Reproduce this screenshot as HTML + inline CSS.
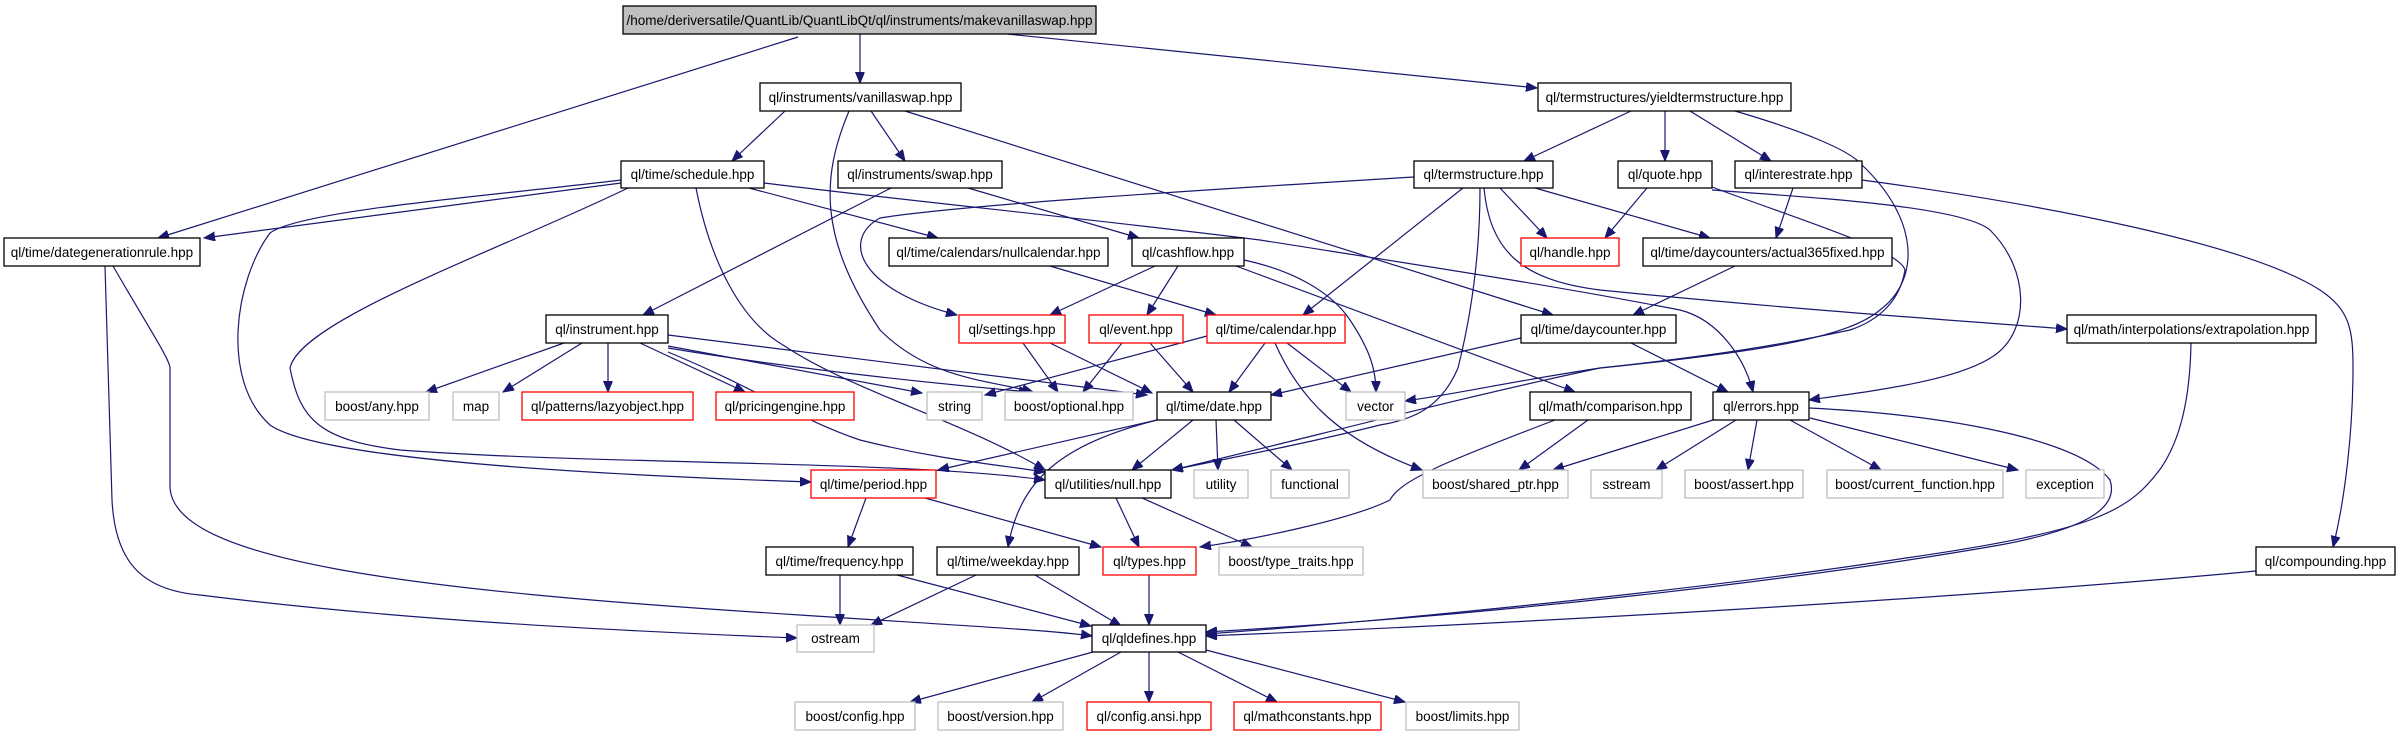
<!DOCTYPE html>
<html><head><meta charset="utf-8"><style>
html,body{margin:0;padding:0;background:#fff;}
svg{display:block}
text{font-family:"Liberation Sans",sans-serif;font-size:13.5px;text-anchor:middle;fill:#000}
.n{fill:#fff;stroke:#000;stroke-width:1.3}
.r{fill:#fff;stroke:#ff0000;stroke-width:1.3}
.g{fill:#fff;stroke:#bfbfbf;stroke-width:1.3}
.e{fill:none;stroke:#191970;stroke-width:1.2;marker-end:url(#a)}
</style></head><body>
<svg width="2400" height="736" viewBox="0 0 2400 736" xmlns="http://www.w3.org/2000/svg">
<defs><marker id="a" markerUnits="userSpaceOnUse" markerWidth="12" markerHeight="10" refX="11" refY="4.5" orient="auto"><path d="M0,0 L11,4.5 L0,9 z" fill="#191970" stroke="#191970"/></marker></defs>

<!-- edges -->
<path class="e" d="M798,37 L158,238"/>
<path class="e" d="M860,34 L860,83"/>
<path class="e" d="M1007,34 L1537,88"/>
<path class="e" d="M785,111 L732,161"/>
<path class="e" d="M871,111 L905,161"/>
<path class="e" d="M849,111 C820,180 820,240 880,330 C930,380 990,380 1033,392"/>
<path class="e" d="M905,111 L1553,315"/>
<path class="e" d="M621,183 L204,238"/>
<path class="e" d="M621,180 C500,195 300,210 270,233 C235,280 220,380 270,425 C320,460 600,475 811,482"/>
<path class="e" d="M628,188 C500,250 300,320 290,368 C300,420 320,440 400,450 C600,465 900,460 1045,480"/>
<path class="e" d="M696,188 C710,260 740,320 783,345 C850,390 960,420 1045,470"/>
<path class="e" d="M105,266 L112,500 C115,560 140,590 200,595 C400,620 600,630 797,638"/>
<path class="e" d="M113,266 C150,330 170,360 170,368 L170,488 C175,560 400,590 800,615 C950,625 1050,630 1092,636"/>
<path class="e" d="M749,188 L938,238"/>
<path class="e" d="M764,183 C900,200 1100,220 1260,240 C1450,270 1550,285 1680,310 C1720,320 1745,360 1753,392"/>
<path class="e" d="M891,188 L643,315"/>
<path class="e" d="M968,188 L1139,238"/>
<path class="e" d="M1414,177 C1200,190 960,205 880,218 C840,240 860,290 957,315"/>
<path class="e" d="M1463,188 L1303,315"/>
<path class="e" d="M1500,188 L1547,238"/>
<path class="e" d="M1535,188 L1710,238"/>
<path class="e" d="M1480,188 C1480,260 1470,320 1458,368 C1440,410 1410,420 1380,425 C1300,445 1220,460 1172,470"/>
<path class="e" d="M1484,188 C1490,250 1520,280 1600,290 C1800,310 1950,320 2067,329"/>
<path class="e" d="M1631,111 L1524,161"/>
<path class="e" d="M1665,111 L1665,161"/>
<path class="e" d="M1690,111 L1771,161"/>
<path class="e" d="M1735,111 C1800,130 1850,150 1862,165 C1920,220 1920,280 1880,310 C1850,335 1780,350 1600,368 C1520,380 1450,395 1405,401"/>
<path class="e" d="M1712,187 C1800,220 1900,250 1905,270 C1900,300 1880,320 1850,330 C1780,345 1720,355 1600,368 C1450,400 1300,440 1172,470"/>
<path class="e" d="M1647,188 L1605,238"/>
<path class="e" d="M1712,190 C1800,197 1960,205 1990,230 C2030,270 2030,330 1995,355 C1960,380 1880,390 1809,400"/>
<path class="e" d="M1862,180 C2050,205 2250,245 2320,290 C2350,310 2353,330 2353,368 C2353,430 2345,500 2333,547"/>
<path class="e" d="M1793,188 L1776,238"/>
<path class="e" d="M1735,266 L1633,315"/>
<path class="e" d="M1050,266 L1216,315"/>
<path class="e" d="M1155,266 L1050,315"/>
<path class="e" d="M1178,266 L1147,315"/>
<path class="e" d="M1244,260 C1290,270 1330,290 1350,320 C1370,350 1376,370 1376,392"/>
<path class="e" d="M1236,266 L1575,392"/>
<path class="e" d="M1050,343 L1152,393"/>
<path class="e" d="M1023,343 L1058,392"/>
<path class="e" d="M1122,343 L1083,392"/>
<path class="e" d="M1150,343 L1193,392"/>
<path class="e" d="M1207,336 L985,395"/>
<path class="e" d="M1265,343 L1229,392"/>
<path class="e" d="M1287,343 L1351,392"/>
<path class="e" d="M1275,343 C1300,400 1340,440 1422,470"/>
<path class="e" d="M1521,338 L1271,395"/>
<path class="e" d="M1631,343 L1728,392"/>
<path class="e" d="M2191,343 C2190,400 2180,440 2161,468 C2130,510 2100,530 1906,558 C1700,590 1400,620 1206,634"/>
<path class="e" d="M2256,571 C2000,595 1600,620 1206,636"/>
<path class="e" d="M1809,408 C1950,415 2080,440 2110,480 C2120,510 2080,530 2000,545 C1800,580 1500,615 1206,632"/>
<path class="e" d="M1713,420 L1553,470"/>
<path class="e" d="M1736,420 L1656,470"/>
<path class="e" d="M1757,420 L1748,470"/>
<path class="e" d="M1790,420 L1881,470"/>
<path class="e" d="M1810,418 L2018,470"/>
<path class="e" d="M1588,420 L1519,470"/>
<path class="e" d="M1555,420 C1450,460 1400,480 1390,500 C1350,520 1250,540 1200,547"/>
<path class="e" d="M564,343 L426,392"/>
<path class="e" d="M582,343 L503,392"/>
<path class="e" d="M608,343 L608,392"/>
<path class="e" d="M640,343 L745,392"/>
<path class="e" d="M668,346 L922,393"/>
<path class="e" d="M668,348 C800,370 950,385 1030,392"/>
<path class="e" d="M668,335 L1147,395"/>
<path class="e" d="M668,352 C760,390 800,420 860,440 C940,460 1000,465 1045,472"/>
<path class="e" d="M1157,420 L938,470"/>
<path class="e" d="M1193,420 L1132,470"/>
<path class="e" d="M1216,420 L1218,470"/>
<path class="e" d="M1234,420 L1292,470"/>
<path class="e" d="M1157,420 C1060,445 1020,480 1008,547"/>
<path class="e" d="M1116,498 L1139,547"/>
<path class="e" d="M1142,498 L1252,547"/>
<path class="e" d="M866,498 L848,547"/>
<path class="e" d="M925,498 L1101,547"/>
<path class="e" d="M840,575 L840,625"/>
<path class="e" d="M897,575 L1091,626"/>
<path class="e" d="M976,575 L871,625"/>
<path class="e" d="M1035,575 L1121,626"/>
<path class="e" d="M1149,575 L1149,625"/>
<path class="e" d="M1093,652 L910,702"/>
<path class="e" d="M1121,652 L1032,702"/>
<path class="e" d="M1149,652 L1149,702"/>
<path class="e" d="M1178,652 L1277,702"/>
<path class="e" d="M1206,650 L1405,702"/>

<!-- nodes -->
<rect x="623" y="6" width="473" height="28" fill="#bfbfbf" stroke="#000" stroke-width="1.3"/><text x="859.5" y="25">/home/deriversatile/QuantLib/QuantLibQt/ql/instruments/makevanillaswap.hpp</text>
<rect class="n" x="760" y="83" width="201" height="28"/><text x="860.5" y="102">ql/instruments/vanillaswap.hpp</text>
<rect class="n" x="1538" y="83" width="253" height="28"/><text x="1664.5" y="102">ql/termstructures/yieldtermstructure.hpp</text>
<rect class="n" x="621" y="161" width="143" height="27"/><text x="692.5" y="179">ql/time/schedule.hpp</text>
<rect class="n" x="838" y="161" width="164" height="27"/><text x="920" y="179">ql/instruments/swap.hpp</text>
<rect class="n" x="1414" y="161" width="139" height="27"/><text x="1483.5" y="179">ql/termstructure.hpp</text>
<rect class="n" x="1618" y="161" width="94" height="27"/><text x="1665" y="179">ql/quote.hpp</text>
<rect class="n" x="1735" y="161" width="127" height="27"/><text x="1798.5" y="179">ql/interestrate.hpp</text>
<rect class="n" x="4" y="238" width="196" height="28"/><text x="102" y="257">ql/time/dategenerationrule.hpp</text>
<rect class="n" x="889" y="238" width="219" height="28"/><text x="998.5" y="257">ql/time/calendars/nullcalendar.hpp</text>
<rect class="n" x="1132" y="238" width="112" height="28"/><text x="1188" y="257">ql/cashflow.hpp</text>
<rect class="r" x="1521" y="238" width="98" height="28"/><text x="1570" y="257">ql/handle.hpp</text>
<rect class="n" x="1643" y="238" width="249" height="28"/><text x="1767.5" y="257">ql/time/daycounters/actual365fixed.hpp</text>
<rect class="n" x="546" y="315" width="122" height="28"/><text x="607" y="334">ql/instrument.hpp</text>
<rect class="r" x="959" y="315" width="106" height="28"/><text x="1012" y="334">ql/settings.hpp</text>
<rect class="r" x="1089" y="315" width="94" height="28"/><text x="1136" y="334">ql/event.hpp</text>
<rect class="r" x="1207" y="315" width="138" height="28"/><text x="1276" y="334">ql/time/calendar.hpp</text>
<rect class="n" x="1521" y="315" width="155" height="28"/><text x="1598.5" y="334">ql/time/daycounter.hpp</text>
<rect class="n" x="2067" y="315" width="249" height="28"/><text x="2191.5" y="334">ql/math/interpolations/extrapolation.hpp</text>
<rect class="g" x="325" y="392" width="104" height="28"/><text x="377" y="411">boost/any.hpp</text>
<rect class="g" x="453" y="392" width="46" height="28"/><text x="476" y="411">map</text>
<rect class="r" x="522" y="392" width="171" height="28"/><text x="607.5" y="411">ql/patterns/lazyobject.hpp</text>
<rect class="r" x="716" y="392" width="138" height="28"/><text x="785" y="411">ql/pricingengine.hpp</text>
<rect class="g" x="927" y="392" width="55" height="28"/><text x="954.5" y="411">string</text>
<rect class="g" x="1005" y="392" width="128" height="28"/><text x="1069" y="411">boost/optional.hpp</text>
<rect class="n" x="1157" y="392" width="114" height="28"/><text x="1214" y="411">ql/time/date.hpp</text>
<rect class="g" x="1346" y="392" width="59" height="28"/><text x="1375.5" y="411">vector</text>
<rect class="n" x="1530" y="392" width="161" height="28"/><text x="1610.5" y="411">ql/math/comparison.hpp</text>
<rect class="n" x="1713" y="392" width="96" height="28"/><text x="1761" y="411">ql/errors.hpp</text>
<rect class="r" x="811" y="470" width="125" height="28"/><text x="873.5" y="489">ql/time/period.hpp</text>
<rect class="n" x="1045" y="470" width="126" height="28"/><text x="1108" y="489">ql/utilities/null.hpp</text>
<rect class="g" x="1194" y="470" width="54" height="28"/><text x="1221" y="489">utility</text>
<rect class="g" x="1271" y="470" width="78" height="28"/><text x="1310" y="489">functional</text>
<rect class="g" x="1423" y="470" width="145" height="28"/><text x="1495.5" y="489">boost/shared_ptr.hpp</text>
<rect class="g" x="1591" y="470" width="71" height="28"/><text x="1626.5" y="489">sstream</text>
<rect class="g" x="1685" y="470" width="118" height="28"/><text x="1744" y="489">boost/assert.hpp</text>
<rect class="g" x="1827" y="470" width="176" height="28"/><text x="1915" y="489">boost/current_function.hpp</text>
<rect class="g" x="2026" y="470" width="78" height="28"/><text x="2065" y="489">exception</text>
<rect class="n" x="766" y="547" width="147" height="28"/><text x="839.5" y="566">ql/time/frequency.hpp</text>
<rect class="n" x="937" y="547" width="142" height="28"/><text x="1008" y="566">ql/time/weekday.hpp</text>
<rect class="r" x="1103" y="547" width="93" height="28"/><text x="1149.5" y="566">ql/types.hpp</text>
<rect class="g" x="1219" y="547" width="144" height="28"/><text x="1291" y="566">boost/type_traits.hpp</text>
<rect class="n" x="2256" y="547" width="139" height="28"/><text x="2325.5" y="566">ql/compounding.hpp</text>
<rect class="g" x="797" y="625" width="77" height="27"/><text x="835.5" y="643">ostream</text>
<rect class="n" x="1092" y="625" width="114" height="27"/><text x="1149" y="643">ql/qldefines.hpp</text>
<rect class="g" x="795" y="702" width="120" height="28"/><text x="855" y="721">boost/config.hpp</text>
<rect class="g" x="938" y="702" width="125" height="28"/><text x="1000.5" y="721">boost/version.hpp</text>
<rect class="r" x="1087" y="702" width="124" height="28"/><text x="1149" y="721">ql/config.ansi.hpp</text>
<rect class="r" x="1234" y="702" width="147" height="28"/><text x="1307.5" y="721">ql/mathconstants.hpp</text>
<rect class="g" x="1406" y="702" width="113" height="28"/><text x="1462.5" y="721">boost/limits.hpp</text>
</svg>
</body></html>
